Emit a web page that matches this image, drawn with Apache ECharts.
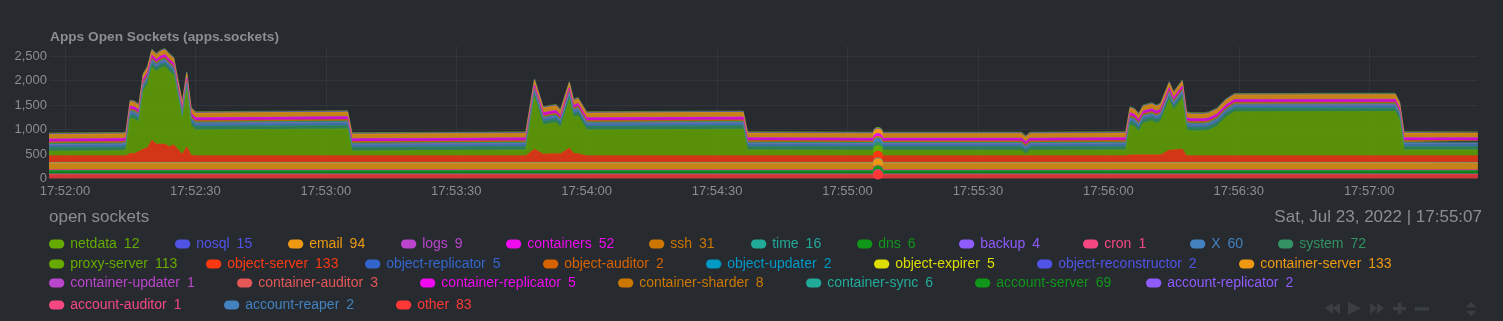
<!DOCTYPE html>
<html><head><meta charset="utf-8">
<script src="https://cdn.jsdelivr.net/npm/echarts@6/dist/echarts.min.js"></script>
<style>html,body{margin:0;padding:0;background:#272b30;}#chart{width:1503px;height:321px;}</style>
</head><body><div id="chart"></div>
<script>
// ---- data (seconds relative to 17:52:00) ----
const times = [-4,13,14,15,16,17,18,19,20,21, 22,23,24,25,26,27,28,29,30,65, 66,106,108,110,112,113,114,116,117,118, 120,156,157,187,200,220,221,222,244,245, 246,247,248,250,251,252,254,255,257,258, 259,262,263,265,267,269,306,307,308,325];

const sNetdata = [12,12,12,12,12,12,12,12,12,12, 12,12,12,12,12,12,12,12,12,12, 12,12,12,12,12,12,12,12,12,12, 12,12,12,12,12,12,12,12,12,12, 12,12,12,12,12,12,12,12,12,12, 12,12,12,12,12,12,12,12,12,12];
const sNosql = [15,15,15,15,15,15,15,15,15,15, 15,15,15,15,15,15,15,15,15,15, 15,15,15,15,15,15,15,15,15,15, 15,15,15,15,15,15,15,15,15,15, 15,15,15,15,15,15,15,15,15,15, 15,15,15,15,15,15,15,15,15,15];
const sEmail = [94,94,94,94,94,94,94,94,94,94, 94,94,94,94,94,94,94,94,94,94, 94,94,94,94,94,94,94,94,94,94, 94,94,94,94,94,94,94,94,94,94, 94,94,94,94,94,94,94,94,94,94, 94,94,94,94,94,94,94,94,94,94];
const sLogs = [9,9,9,9,9,9,9,9,9,9, 9,9,9,9,9,9,9,9,9,9, 9,9,9,9,9,9,9,9,9,9, 9,9,9,9,9,9,9,9,9,9, 9,9,9,9,9,9,9,9,9,9, 9,9,9,9,9,9,9,9,9,9];
const sContainers = [52,52,52,52,52,52,52,52,52,52, 52,52,52,52,52,52,52,52,52,52, 52,52,52,52,52,52,52,52,52,52, 52,52,52,52,52,52,52,52,52,52, 52,52,52,52,52,52,52,52,52,52, 52,52,52,52,52,52,52,52,52,52];
const sSsh = [31,31,31,31,31,31,31,31,31,31, 31,31,31,31,31,31,31,31,31,31, 31,31,31,31,31,31,31,31,31,31, 31,31,31,31,31,31,31,31,31,31, 31,31,31,31,31,31,31,31,31,31, 31,31,31,31,31,31,31,31,31,31];
const sTime = [16,16,16,16,16,16,16,16,16,16, 16,16,16,16,16,16,16,16,16,16, 16,16,16,16,16,16,16,16,16,16, 16,16,16,16,16,16,16,16,16,16, 16,16,16,16,16,16,16,16,16,16, 16,16,16,16,16,16,16,16,16,16];
const sDns = [6,6,6,6,6,6,6,6,6,6, 6,6,6,6,6,6,6,6,6,6, 6,6,6,6,6,6,6,6,6,6, 6,6,6,6,6,6,6,6,6,6, 6,6,6,6,6,6,6,6,6,6, 6,6,6,6,6,6,6,6,6,6];
const sBackup = [4,4,4,4,4,4,4,4,4,4, 4,4,4,4,4,4,4,4,4,4, 4,4,4,4,4,4,4,4,4,4, 4,4,4,4,4,4,4,4,4,4, 4,4,4,4,4,4,4,4,4,4, 4,4,4,4,4,4,4,4,4,4];
const sCron = [1,1,1,1,1,1,1,1,1,1, 1,1,1,1,1,1,1,1,1,1, 1,1,1,1,1,1,1,1,1,1, 1,1,1,1,1,1,1,1,1,1, 1,1,1,1,1,1,1,1,1,1, 1,1,1,1,1,1,1,1,1,1];
const sX = [60,60,60,60,60,60,60,60,60,60, 60,60,60,60,60,60,60,60,60,60, 60,60,60,60,60,60,60,60,60,60, 60,60,60,60,60,60,60,60,60,60, 60,60,60,60,60,60,60,60,60,60, 60,60,60,60,60,60,60,60,60,60];
const sSystem = [72,72,72,72,72,72,72,72,72,72, 72,72,72,72,72,72,72,72,72,72, 72,72,72,72,72,72,72,72,72,72, 72,72,72,72,72,72,72,72,72,72, 72,72,72,72,72,72,72,72,72,72, 72,72,72,72,72,72,72,72,72,72];
const sProxyServer = [95,105,116,721,701,600,1176,1295,1489,1482, 1550,1580,1537,1421,1049,692,1156,611,529,550, 101,118,1060,596,624,634,536,985,735,782, 529,544,121,113,113,113,40,113,121,611, 579,477,646,693,646,681,1026,816,1039,529, 509,509,523,605,789,901,905,733,121,121];
const sObjectServer = [133,133,133,180,180,220,270,300,453,372, 372,372,317,358,260,168,317,147,133,133, 133,133,270,168,175,175,175,290,180,174, 133,133,133,133,133,133,133,133,133,153, 153,153,153,153,153,153,249,255,270,133, 133,133,133,133,133,133,133,133,133,133];
const sObjectReplicator = [5,5,5,5,5,5,5,5,5,5, 5,5,5,5,5,5,5,5,5,5, 5,5,5,5,5,5,5,5,5,5, 5,5,5,5,5,5,5,5,5,5, 5,5,5,5,5,5,5,5,5,5, 5,5,5,5,5,5,5,5,5,5];
const sObjectAuditor = [2,2,2,2,2,2,2,2,2,2, 2,2,2,2,2,2,2,2,2,2, 2,2,2,2,2,2,2,2,2,2, 2,2,2,2,2,2,2,2,2,2, 2,2,2,2,2,2,2,2,2,2, 2,2,2,2,2,2,2,2,2,2];
const sObjectUpdater = [2,2,2,2,2,2,2,2,2,2, 2,2,2,2,2,2,2,2,2,2, 2,2,2,2,2,2,2,2,2,2, 2,2,2,2,2,2,2,2,2,2, 2,2,2,2,2,2,2,2,2,2, 2,2,2,2,2,2,2,2,2,2];
const sObjectExpirer = [5,5,5,5,5,5,5,5,5,5, 5,5,5,5,5,5,5,5,5,5, 5,5,5,5,5,5,5,5,5,5, 5,5,5,5,5,5,5,5,5,5, 5,5,5,5,5,5,5,5,5,5, 5,5,5,5,5,5,5,5,5,5];
const sObjectReconstructor = [2,2,2,2,2,2,2,2,2,2, 2,2,2,2,2,2,2,2,2,2, 2,2,2,2,2,2,2,2,2,2, 2,2,2,2,2,2,2,2,2,2, 2,2,2,2,2,2,2,2,2,2, 2,2,2,2,2,2,2,2,2,2];
const sContainerServer = [133,133,133,133,133,133,133,133,133,133, 133,133,133,133,133,133,133,133,133,133, 133,133,133,133,133,133,133,133,133,133, 133,133,133,133,133,133,133,133,133,133, 133,133,133,133,133,133,133,133,133,133, 133,133,133,133,133,133,133,133,133,133];
const sContainerUpdater = [1,1,1,1,1,1,1,1,1,1, 1,1,1,1,1,1,1,1,1,1, 1,1,1,1,1,1,1,1,1,1, 1,1,1,1,1,1,1,1,1,1, 1,1,1,1,1,1,1,1,1,1, 1,1,1,1,1,1,1,1,1,1];
const sContainerAuditor = [3,3,3,3,3,3,3,3,3,3, 3,3,3,3,3,3,3,3,3,3, 3,3,3,3,3,3,3,3,3,3, 3,3,3,3,3,3,3,3,3,3, 3,3,3,3,3,3,3,3,3,3, 3,3,3,3,3,3,3,3,3,3];
const sContainerReplicator = [5,5,5,5,5,5,5,5,5,5, 5,5,5,5,5,5,5,5,5,5, 5,5,5,5,5,5,5,5,5,5, 5,5,5,5,5,5,5,5,5,5, 5,5,5,5,5,5,5,5,5,5, 5,5,5,5,5,5,5,5,5,5];
const sContainerSharder = [8,8,8,8,8,8,8,8,8,8, 8,8,8,8,8,8,8,8,8,8, 8,8,8,8,8,8,8,8,8,8, 8,8,8,8,8,8,8,8,8,8, 8,8,8,8,8,8,8,8,8,8, 8,8,8,8,8,8,8,8,8,8];
const sContainerSync = [6,6,6,6,6,6,6,6,6,6, 6,6,6,6,6,6,6,6,6,6, 6,6,6,6,6,6,6,6,6,6, 6,6,6,6,6,6,6,6,6,6, 6,6,6,6,6,6,6,6,6,6, 6,6,6,6,6,6,6,6,6,6];
const sAccountServer = [69,69,69,69,69,69,69,69,69,69, 69,69,69,69,69,69,69,69,69,69, 69,69,69,69,69,69,69,69,69,69, 69,69,69,69,69,69,69,69,69,69, 69,69,69,69,69,69,69,69,69,69, 69,69,69,69,69,69,69,69,69,69];
const sAccountReplicator = [2,2,2,2,2,2,2,2,2,2, 2,2,2,2,2,2,2,2,2,2, 2,2,2,2,2,2,2,2,2,2, 2,2,2,2,2,2,2,2,2,2, 2,2,2,2,2,2,2,2,2,2, 2,2,2,2,2,2,2,2,2,2];
const sAccountAuditor = [1,1,1,1,1,1,1,1,1,1, 1,1,1,1,1,1,1,1,1,1, 1,1,1,1,1,1,1,1,1,1, 1,1,1,1,1,1,1,1,1,1, 1,1,1,1,1,1,1,1,1,1, 1,1,1,1,1,1,1,1,1,1];
const sAccountReaper = [2,2,2,2,2,2,2,2,2,2, 2,2,2,2,2,2,2,2,2,2, 2,2,2,2,2,2,2,2,2,2, 2,2,2,2,2,2,2,2,2,2, 2,2,2,2,2,2,2,2,2,2, 2,2,2,2,2,2,2,2,2,2];
const sOther = [83,83,83,83,83,83,83,83,83,83, 83,83,83,83,83,83,83,83,83,83, 83,83,83,83,83,83,83,83,83,83, 83,83,83,83,83,83,83,83,83,83, 83,83,83,83,83,83,83,83,83,83, 83,83,83,83,83,83,83,83,83,83];

const names = ['netdata','nosql','email','logs','containers','ssh','time','dns','backup','cron','X','system',
  'proxy-server','object-server','object-replicator','object-auditor','object-updater','object-expirer','object-reconstructor',
  'container-server','container-updater','container-auditor','container-replicator','container-sharder','container-sync',
  'account-server','account-replicator','account-auditor','account-reaper','other'];
const seriesValues = [sNetdata,sNosql,sEmail,sLogs,sContainers,sSsh,sTime,sDns,sBackup,sCron,sX,sSystem,
  sProxyServer,sObjectServer,sObjectReplicator,sObjectAuditor,sObjectUpdater,sObjectExpirer,sObjectReconstructor,
  sContainerServer,sContainerUpdater,sContainerAuditor,sContainerReplicator,sContainerSharder,sContainerSync,
  sAccountServer,sAccountReplicator,sAccountAuditor,sAccountReaper,sOther];
const legendValues = [12,15,94,9,52,31,16,6,4,1,60,72,113,133,5,2,2,5,2,133,1,3,5,8,6,69,2,1,2,83];
const hoverTime = 187;
const xTicks = [0,30,60,90,120,150,180,210,240,270,300];
const yTicks = [0,500,1000,1500,2000,2500];
const chartTitle = 'Apps Open Sockets (apps.sockets)';
const unitsLabel = 'open sockets';
const dateLabel = 'Sat, Jul 23, 2022 | 17:55:07';

// ---- style / layout ----
const colors = ['#66AA00','#5054e6','#EE9911','#BB44CC','#ef0aef','#CC7700','#22AA99','#109618','#905bfd','#f54882','#4381bf','#329262',
  '#66AA00','#FE3912','#3366CC','#D66300','#0099C6','#DDDD00','#5054e6',
  '#EE9911','#BB44CC','#e45757','#ef0aef','#CC7700','#22AA99',
  '#109618','#905bfd','#f54882','#4381bf','#ff3737'];
const legendLeft = [49,175,288,401,506,649,751,857,959,1083,1190,1278, 49,206,365,543,706,874,1037,1239, 49,237,420,618,806,975,1146, 49,224,396];
const rowCenters = [243,263,282,304];
const FONT = "'Liberation Sans', Arial, Helvetica, sans-serif";
const GRAY = '#8a8e93';

function rowOf(i){ return i < 12 ? 0 : i < 20 ? 1 : i < 27 ? 2 : 3; }
function fmtTime(v){
  const s = 17*3600 + 52*60 + Math.round(v);
  const p = n => String(n).padStart(2,'0');
  return p(Math.floor(s/3600)) + ':' + p(Math.floor(s/60)%60) + ':' + p(s%60);
}

// value first, time second (encode maps time to x), so stacking works on the values
const series = [];
for (let k = names.length - 1; k >= 0; k--) {
  const vals = seriesValues[k];
  series.push({
    name: names[k], type: 'line', stack: 'total',
    data: times.map((t, i) => [vals[i], t]),
    encode: { x: 1, y: 0 },
    symbol: 'circle', showSymbol: true, showAllSymbol: true,
    symbolSize: v => (v[1] === hoverTime ? 10 : 0),
    z: 2 + k * 0.01,
    itemStyle: { color: colors[k], opacity: 1 },
    lineStyle: { width: 0.6, color: colors[k] },
    areaStyle: { color: colors[k], opacity: 0.8 },
    emphasis: { disabled: true },
    animation: false
  });
}

const legends = names.map((n, i) => ({
  left: legendLeft[i], top: rowCenters[rowOf(i)] - 7, padding: 0,
  itemWidth: 17, itemHeight: 9,
  icon: 'path://M5 0H12A5 5 0 0 1 12 10H5A5 5 0 0 1 5 0Z',
  data: [{ name: n, textStyle: { color: colors[i] } }],
  formatter: name => '{n|' + name + '}{v|' + legendValues[i] + '}',
  textStyle: { fontFamily: FONT, fontSize: 14, color: colors[i], lineHeight: 16,
    rich: { n: { fontFamily: FONT, fontSize: 14 }, v: { fontFamily: FONT, fontSize: 14, padding: [0,0,0,7] } } },
  itemStyle: { opacity: 1 }
}));

const iconColor = '#3a3e44';
const graphic = [
  { type: 'polygon', shape: { points: [[1325,308.3],[1333,302.7],[1333,314]] }, style: { fill: iconColor } },
  { type: 'polygon', shape: { points: [[1332,308.3],[1340,302.7],[1340,314]] }, style: { fill: iconColor } },
  { type: 'polygon', shape: { points: [[1348,301.7],[1348,315],[1361,308.3]] }, style: { fill: iconColor } },
  { type: 'polygon', shape: { points: [[1370,302.7],[1370,314],[1377,308.3]] }, style: { fill: iconColor } },
  { type: 'polygon', shape: { points: [[1377,302.7],[1377,314],[1384,308.3]] }, style: { fill: iconColor } },
  { type: 'rect', shape: { x: 1398, y: 303, width: 3.5, height: 11 }, style: { fill: iconColor } },
  { type: 'rect', shape: { x: 1393, y: 306.8, width: 13, height: 3.5 }, style: { fill: iconColor } },
  { type: 'rect', shape: { x: 1415, y: 307.3, width: 14, height: 3.4 }, style: { fill: iconColor } },
  { type: 'polygon', shape: { points: [[1466,307.3],[1476.5,307.3],[1471.2,301.7]] }, style: { fill: iconColor } },
  { type: 'polygon', shape: { points: [[1466,310.7],[1476.5,310.7],[1471.2,316.3]] }, style: { fill: iconColor } }
];

const chart = echarts.init(document.getElementById('chart'), null, { renderer: 'canvas' });
chart.setOption({
  backgroundColor: '#272b30',
  animation: false,
  title: [
    { text: chartTitle, left: 50, top: 30, padding: 0,
      textStyle: { fontFamily: FONT, fontSize: 13.7, fontWeight: 'bold', color: GRAY } },
    { text: unitsLabel, left: 49, top: 209, padding: 0,
      textStyle: { fontFamily: FONT, fontSize: 17, fontWeight: 'normal', color: GRAY } },
    { text: dateLabel, right: 21, top: 209, padding: 0,
      textStyle: { fontFamily: FONT, fontSize: 17, fontWeight: 'normal', color: GRAY } }
  ],
  legend: legends,
  grid: { left: 50, right: 26, top: 46.2, bottom: 142.5, containLabel: false },
  xAxis: {
    type: 'value', min: -3.45, max: 324.8,
    axisLine: { show: false }, axisTick: { show: false, customValues: xTicks },
    axisLabel: { customValues: xTicks, formatter: fmtTime, color: GRAY, fontFamily: FONT, fontSize: 13, margin: 6 },
    splitLine: { show: true, lineStyle: { color: '#31353b', width: 1 } }
  },
  yAxis: {
    type: 'value', min: 0, max: 2700,
    axisLine: { show: false }, axisTick: { show: false, customValues: yTicks },
    axisLabel: { customValues: yTicks, formatter: v => v.toLocaleString('en-US'), color: GRAY, fontFamily: FONT, fontSize: 13, margin: 3 },
    splitLine: { show: true, lineStyle: { color: '#31353b', width: 1 } }
  },
  graphic: graphic,
  series: series
});
</script></body></html>
